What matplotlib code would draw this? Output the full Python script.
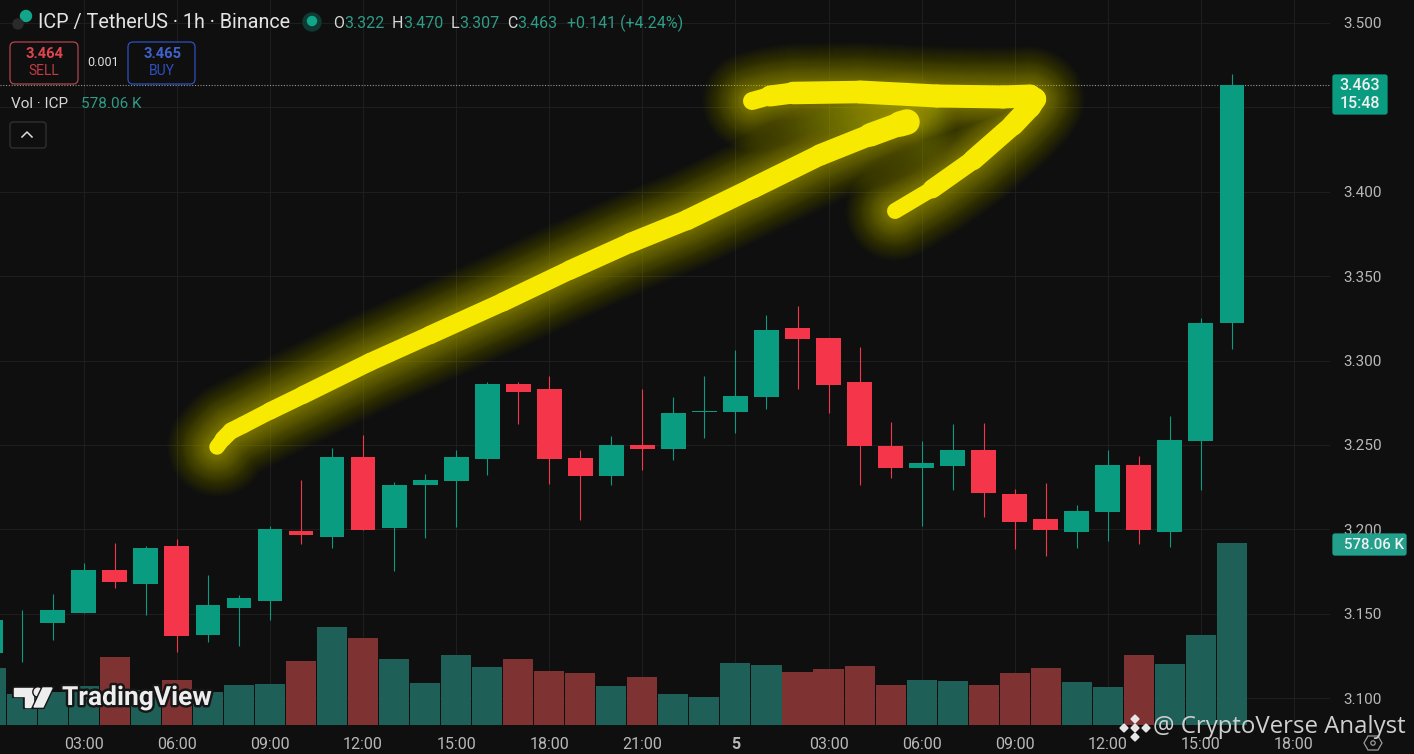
import matplotlib
matplotlib.use("Agg")
import matplotlib.pyplot as plt
import matplotlib.patheffects as pe
from matplotlib.patches import FancyBboxPatch, Circle, Polygon

# Candles, one per hour, index 0 = 00:00
opens = [3.127, 3.1461, 3.1447, 3.1505, 3.1759, 3.1676, 3.1902, 3.1374, 3.1534, 3.1576,
         3.199, 3.1955, 3.2429, 3.2008, 3.2263, 3.2287, 3.2417, 3.2861, 3.2832, 3.2423,
         3.2316, 3.25, 3.2476, 3.2698, 3.2695, 3.2784, 3.3193, 3.3134, 3.2873, 3.2494,
         3.2364, 3.2377, 3.247, 3.221, 3.2061, 3.1984, 3.2103, 3.2381, 3.1984, 3.2524, 3.322]
highs = [3.15, 3.1522, 3.1615, 3.1799, 3.1921, 3.1902, 3.1943, 3.173, 3.1609, 3.202,
         3.2291, 3.248, 3.2559, 3.2281, 3.2328, 3.247, 3.2875, 3.2875, 3.2909, 3.247,
         3.2553, 3.2832, 3.2786, 3.2909, 3.3063, 3.327, 3.3323, 3.3134, 3.3079, 3.2634,
         3.2524, 3.2624, 3.263, 3.2239, 3.2275, 3.2144, 3.247, 3.2435, 3.2672, 3.3252, 3.47]
lows = [3.12, 3.1214, 3.1345, 3.1505, 3.1654, 3.1494, 3.1275, 3.1335, 3.1309, 3.1463,
        3.1913, 3.1888, 3.1996, 3.1753, 3.1949, 3.2016, 3.2322, 3.2624, 3.2269, 3.2056,
        3.2263, 3.2352, 3.2411, 3.2541, 3.2571, 3.2713, 3.2832, 3.2689, 3.2263, 3.2303,
        3.202, 3.2233, 3.2073, 3.1884, 3.1842, 3.189, 3.1931, 3.1913, 3.1897, 3.2233, 3.307]
closes = [3.1463, 3.1465, 3.1522, 3.1759, 3.1688, 3.189, 3.1368, 3.1552, 3.1595, 3.2002,
          3.1967, 3.2429, 3.1996, 3.2263, 3.2292, 3.2429, 3.2861, 3.2814, 3.2417, 3.2316,
          3.25, 3.2476, 3.2689, 3.2701, 3.279, 3.3181, 3.3128, 3.2855, 3.2494, 3.2364,
          3.2393, 3.247, 3.2215, 3.2044, 3.1996, 3.2109, 3.2381, 3.1996, 3.2529, 3.3223, 3.463]
volumes = [181, 99, 105, 124, 216, 111, 143, 105, 127, 130,
           204, 311, 277, 210, 134, 222, 184, 210, 172, 165,
           124, 153, 99, 90, 197, 191, 169, 178, 188, 127,
           144, 140, 127, 166, 182, 137, 121, 223, 194, 286, 578.06]

price_ticks = [3.100, 3.150, 3.200, 3.250, 3.300, 3.350, 3.400, 3.450, 3.500]
price_labels = ["3.100", "3.150", "3.200", "3.250", "3.300", "3.350", "3.400", "", "3.500"]
time_ticks = [3, 6, 9, 12, 15, 18, 21, 24, 27, 30, 33, 36, 39, 42]
time_labels = ["03:00", "06:00", "09:00", "12:00", "15:00", "18:00", "21:00",
               "5", "03:00", "06:00", "09:00", "12:00", "15:00", "18:00"]

# Hand drawn yellow arrow, in screen pixels, with stroke width per point
arrow_shaft_x = [217, 223, 231, 243, 270, 303, 370, 430, 503, 570, 630, 687, 753, 820, 870, 900, 907]
arrow_shaft_y = [447, 439, 431, 425, 411, 395, 362, 335, 302, 270, 243, 220, 188, 155, 135, 124, 122]
arrow_shaft_w = [15, 16, 17, 17, 17, 18, 18, 18, 19, 19, 20, 20, 21, 21, 22, 25, 26]
arrow_head_x = [752, 770, 793, 860, 937, 1003, 1030, 1035, 1030, 1013, 973, 932, 895]
arrow_head_y = [101, 96, 93, 92, 96, 97, 96, 99, 107, 125, 160, 189, 211]
arrow_head_w = [16, 20, 22, 23, 23, 23, 23, 22, 22, 21, 20, 18, 14]

BG = "#0f0f0f"
GREEN = "#0a9c80"
RED = "#f5364a"
VOL_GREEN = "#1e5f58"
VOL_RED = "#7f3232"
GRID = "#1e1e1e"
YELLOW = "#f7ea00"
W, H = 1414, 754

plt.rcParams["font.family"] = "Roboto"

fig = plt.figure(figsize=(W / 100, H / 100), dpi=100, facecolor=BG)

# Price pane
ax = fig.add_axes([0, 29 / H, 1330 / W, 725 / H], facecolor=BG)
ax.set_xlim(0.2997, 43.16)
ax.set_ylim(3.0841, 3.5136)

ax.set_axisbelow(True)
ax.grid(True, color=GRID, linewidth=0.8)

for i in range(len(opens)):
    up = closes[i] >= opens[i]
    color = GREEN if up else RED
    ax.vlines(i, lows[i], highs[i], color=color, linewidth=0.8, zorder=3)
    ax.bar(i, abs(closes[i] - opens[i]), bottom=min(opens[i], closes[i]),
           width=0.8, color=color, zorder=4)

ax.axhline(closes[-1], color="#8f9a96", linewidth=0.8, linestyle=(0, (1, 1.5)), zorder=2)

# Volume pane, same x axis
ax_vol = ax.twinx()
ax_vol.set_ylim(0, 2306)
ax_vol.axis("off")
vol_colors = [VOL_GREEN if closes[i] >= opens[i] else VOL_RED for i in range(len(opens))]
ax_vol.bar(range(len(volumes)), volumes, width=0.97, color=vol_colors, zorder=1)

ax.yaxis.tick_right()
ax.set_yticks(price_ticks)
ax.set_yticklabels(price_labels)
ax.set_xticks(time_ticks)
ax.set_xticklabels(time_labels)
ax.tick_params(axis="y", length=0, pad=9.4, labelsize=11, labelcolor="#b8b8b8")
ax.tick_params(axis="x", length=0, pad=8.5, labelsize=11.5, labelcolor="#b8b8b8")
ax.get_xticklabels()[7].set_fontweight("bold")
for side in ax.spines:
    ax.spines[side].set_visible(False)
    ax_vol.spines[side].set_visible(False)

# Overlay in screen pixels for arrow and chrome
ov = fig.add_axes([0, 0, 1, 1], facecolor="none")
ov.set_xlim(0, W)
ov.set_ylim(H, 0)
ov.axis("off")

strokes = [(arrow_shaft_x, arrow_shaft_y, arrow_shaft_w),
           (arrow_head_x, arrow_head_y, arrow_head_w)]

# glow first, stronger close to the stroke, then the solid stroke
for px in range(100, 18, -2):
    glow_alpha = 0.012 + 0.02 * (1 - px / 100)
    for xs, ys, ws in strokes:
        ov.plot(xs, ys, color="#d8d000", alpha=glow_alpha, linewidth=px * 0.72,
                solid_capstyle="round", solid_joinstyle="round")
for xs, ys, ws in strokes:
    for k in range(len(xs) - 1):
        ov.plot(xs[k:k + 2], ys[k:k + 2], color=YELLOW, linewidth=(ws[k] + ws[k + 1]) / 2 * 0.72,
                solid_capstyle="round")


def box(x0, y0, x1, y1, face, edge, r=3, lw=0.9):
    ov.add_patch(FancyBboxPatch((x0 + r, y0 + r), x1 - x0 - 2 * r, y1 - y0 - 2 * r,
                                boxstyle="round,pad=%d,rounding_size=%d" % (r, r),
                                facecolor=face, edgecolor=edge, linewidth=lw))


def label(x, y, s, color="#d6d6d6", size=11.5, ha="left", **kw):
    ov.text(x, y, s, color=color, fontsize=size, ha=ha, va="center", **kw)


# Header
ov.add_patch(Circle((26, 16), 5.5, color="#12a58a"))
ov.add_patch(Circle((18, 24), 5, color="#2a2a2a"))
label(38, 22.5, "ICP / TetherUS · 1h · Binance", size=14.2, color="#e4e4e4")
ov.add_patch(Circle((312, 22), 9, color="#0f3a33"))
ov.add_patch(Circle((312, 21), 4.5, color="#12a58a"))
TEAL = "#2e9c86"
label(333, 23, "O")
label(344, 23, "3.322", color=TEAL)
label(392, 23, "H")
label(403, 23, "3.470", color=TEAL)
label(451, 23, "L")
label(459, 23, "3.307", color=TEAL)
label(507, 23, "C")
label(517, 23, "3.463", color=TEAL)
label(567, 23, "+0.141 (+4.24%)", color=TEAL)

# Sell / buy buttons
box(10, 42, 78, 84, BG, "#b0464f", r=5)
label(44, 54, "3.464", color="#e0454f", size=10.5, ha="center", fontweight="bold")
label(44, 71, "SELL", color="#c23b44", size=10, ha="center")
label(103, 62, "0.001", size=9, ha="center", color="#e0e0e0")
box(128, 42, 195, 84, BG, "#2f4fc0", r=5)
label(162, 54, "3.465", color="#3f62d0", size=10.5, ha="center", fontweight="bold")
label(162, 71, "BUY", color="#2f4fc0", size=10, ha="center")

# Volume legend and collapse button
label(11, 104, "Vol · ICP", size=11)
label(81, 104, "578.06 K", size=11, color=TEAL)
box(10, 122, 46, 148, BG, "#333333", r=3)
ov.plot([22, 27, 32], [137, 132, 137], color="#dddddd", linewidth=1.1)

# Last price tags
box(1333, 75, 1387, 114, GREEN, GREEN, r=2)
label(1380, 86, "3.463", color="#f0f0f0", size=11.5, ha="right", fontweight="medium")
label(1380, 104, "15:48", color="#f0f0f0", size=11.5, ha="right", fontweight="medium")
box(1333, 534, 1406, 555, "#22a08c", "#22a08c", r=2)
label(1344, 545, "578.06 K", color="#f0f0f0", size=10.8, fontweight="medium")

# TradingView logo
logo_t = ov.add_patch(Polygon([[14, 688], [33, 688], [33, 707], [25, 707], [25, 696], [14, 696]],
                              closed=True, color="#eeeeee"))
logo_d = ov.add_patch(Circle((38, 692), 3.8, color="#eeeeee"))
logo_s = ov.add_patch(Polygon([[43, 688], [52, 688], [43, 707], [34, 707]], closed=True, color="#eeeeee"))
for p in (logo_t, logo_d, logo_s):
    p.set_path_effects([pe.withStroke(linewidth=3, foreground="#161616")])
label(62, 698, "TradingView", color="#eeeeee", size=19, fontweight="bold",
      path_effects=[pe.withStroke(linewidth=3.5, foreground="#161616")])

# Watermark
for cx, cy in [(1135, 719), (1135, 737), (1124, 728), (1146, 728)]:
    ov.add_patch(Polygon([[cx - 4, cy], [cx, cy - 4], [cx + 4, cy], [cx, cy + 4]], color="#e6e6e6"))
ov.add_patch(Polygon([[1131, 728], [1135, 724], [1139, 728], [1135, 732]], color="#e6e6e6"))
label(1153, 727, "@ CryptoVerse Analyst", color="#cfcfcf", size=17.3, family="Open Sans")

# Settings icon
ov.add_patch(Polygon([[1364, 743], [1368, 736], [1378, 736], [1382, 743], [1378, 750], [1368, 750]],
                     closed=True, fill=False, edgecolor="#9a9a9a", linewidth=0.9))
ov.add_patch(Circle((1373, 743), 2.2, fill=False, edgecolor="#9a9a9a", linewidth=0.9))

fig.savefig("out.png", dpi=100, facecolor=BG)
